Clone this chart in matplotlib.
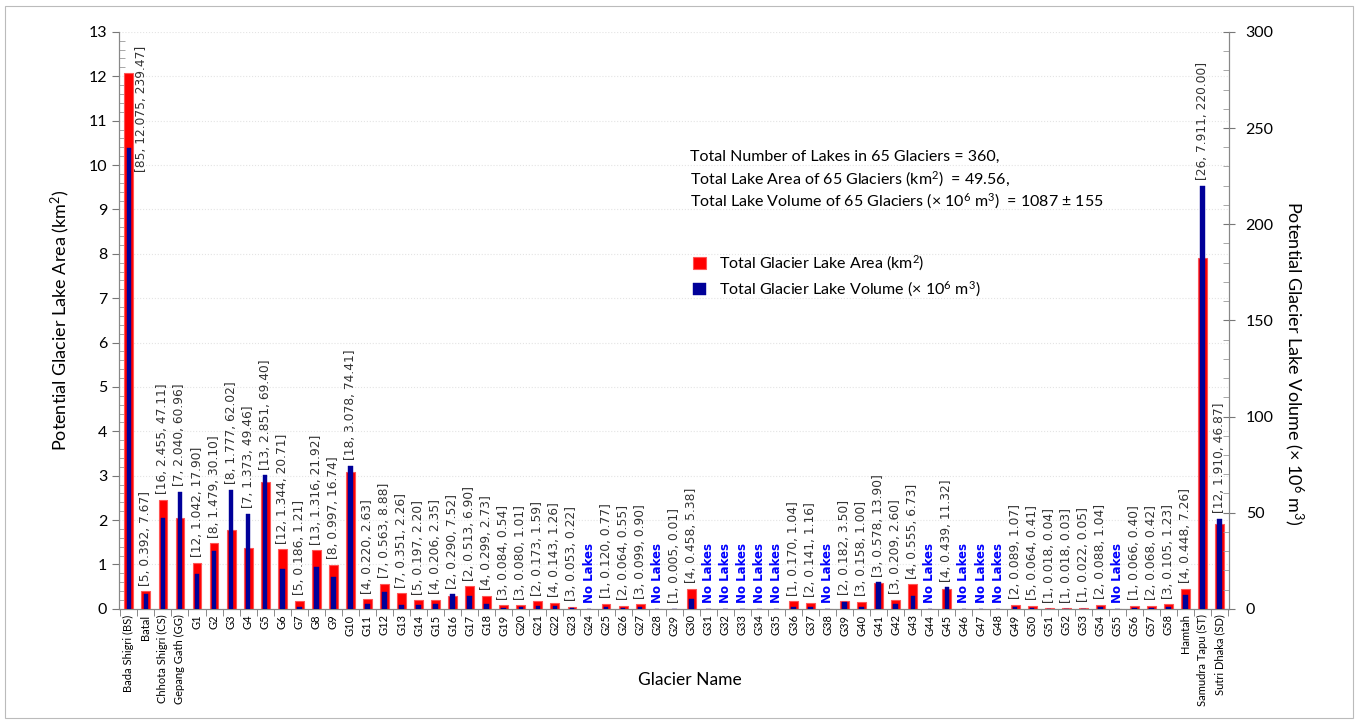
import numpy as np
import matplotlib.pyplot as plt
from matplotlib.ticker import MultipleLocator, FixedLocator

plt.rcParams['font.family'] = ['Lato', 'DejaVu Sans']
plt.rcParams['mathtext.fontset'] = 'custom'
plt.rcParams['mathtext.rm'] = 'Lato'
plt.rcParams['mathtext.it'] = 'Lato:italic'
plt.rcParams['mathtext.bf'] = 'Lato:bold'

glaciers = ['Bada Shigri (BS)', 'Batal', 'Chhota Shigri (CS)', 'Gepang Gath (GG)'] \
    + ['G%d' % i for i in range(1, 59)] \
    + ['Hamtah', 'Samudra Tapu (ST)', 'Sutri Dhaka (SD)']

# number of lakes per glacier (0 = no lakes)
n_lakes = [85, 5, 16, 7,
           12, 8, 8, 7, 13, 12, 5, 13, 8, 18,
           4, 7, 7, 5, 4, 2, 2, 4, 3, 3,
           2, 4, 3, 0, 1, 2, 3, 0, 1, 4,
           0, 0, 0, 0, 0, 1, 2, 0, 2, 3,
           3, 3, 4, 0, 4, 0, 0, 0, 2, 5,
           1, 1, 1, 2, 0, 1, 2, 3,
           4, 26, 12]

# total lake area (km2)
area = [12.075, 0.392, 2.455, 2.040,
        1.042, 1.479, 1.777, 1.373, 2.851, 1.344, 0.186, 1.316, 0.997, 3.078,
        0.220, 0.563, 0.351, 0.197, 0.206, 0.290, 0.513, 0.299, 0.084, 0.080,
        0.173, 0.143, 0.053, 0.0, 0.120, 0.064, 0.099, 0.0, 0.005, 0.458,
        0.0, 0.0, 0.0, 0.0, 0.0, 0.170, 0.141, 0.0, 0.182, 0.158,
        0.578, 0.209, 0.555, 0.0, 0.439, 0.0, 0.0, 0.0, 0.089, 0.064,
        0.018, 0.018, 0.022, 0.088, 0.0, 0.066, 0.068, 0.105,
        0.448, 7.911, 1.910]

# total lake volume (x 10^6 m3)
volume = [239.47, 7.67, 47.11, 60.96,
          17.90, 30.10, 62.02, 49.46, 69.40, 20.71, 1.21, 21.92, 16.74, 74.41,
          2.63, 8.88, 2.26, 2.20, 2.35, 7.52, 6.90, 2.73, 0.54, 1.01,
          1.59, 1.26, 0.22, 0.0, 0.77, 0.55, 0.90, 0.0, 0.01, 5.38,
          0.0, 0.0, 0.0, 0.0, 0.0, 1.04, 1.16, 0.0, 3.50, 1.00,
          13.90, 2.60, 6.73, 0.0, 11.32, 0.0, 0.0, 0.0, 1.07, 0.41,
          0.04, 0.03, 0.05, 1.04, 0.0, 0.40, 0.42, 1.23,
          7.26, 220.00, 46.87]

area_max = 13
vol_max = 300

fig = plt.figure(figsize=(13.58, 7.24), dpi=100)
ax = fig.add_axes([0.0876, 0.159, 0.8174, 0.797])
ax2 = ax.twinx()

x = np.arange(len(glaciers))

ax.bar(x, area, width=0.52, color='#FF0000', edgecolor='#FF5555', linewidth=0.8,
       label='Total Glacier Lake Area (km$^2$)', zorder=3)
ax2.bar(x, volume, width=0.27, color='#000099', edgecolor='#000099', linewidth=0.3,
        label='Total Glacier Lake Volume (× 10$^6$ m$^3$)', zorder=3)

ax.set_xlim(-0.58, len(glaciers) - 0.45)
ax.set_ylim(0, area_max)
ax2.set_ylim(0, vol_max)

# annotations
for i in range(len(glaciers)):
    if n_lakes[i] == 0:
        ax.annotate('No Lakes', (x[i], 0), xytext=(0, 4), textcoords='offset points',
                    rotation=90, ha='center', va='bottom', color='#0000FF',
                    fontsize=8.5, fontweight='bold', family='DejaVu Sans')
        continue
    txt = '[%d, %.3f, %.2f]' % (n_lakes[i], area[i], volume[i])
    top = max(area[i], volume[i] / vol_max * area_max)
    if top > 11:
        # no room above: put it beside the bar
        ax.annotate(txt, (x[i] + 0.75, 12.68), rotation=90, ha='center', va='top',
                    fontsize=8.8, color='#333333', family='DejaVu Sans')
    else:
        ax.annotate(txt, (x[i], top), xytext=(0, 4), textcoords='offset points',
                    rotation=90, ha='center', va='bottom', fontsize=8.8,
                    color='#333333', family='DejaVu Sans')

# left axis
ax.yaxis.set_major_locator(MultipleLocator(1))
ax.yaxis.set_minor_locator(MultipleLocator(0.2))
ax.tick_params(axis='y', which='major', direction='out', length=5, color='#777777',
               labelsize=11.5)
ax.tick_params(axis='y', which='minor', direction='in', length=4, color='#999999')
ax.grid(axis='y', color='#E4E4E4', linestyle=':', linewidth=0.8, zorder=0)

# x axis ticks between categories
ax.set_xticks(x)
ax.set_xticklabels(glaciers, rotation=90, fontsize=8)
ax.xaxis.set_minor_locator(FixedLocator(np.arange(-0.5, len(glaciers), 1)))
ax.tick_params(axis='x', which='major', length=0, pad=4)
ax.tick_params(axis='x', which='minor', length=5, color='#777777')

# right axis
ax2.yaxis.set_major_locator(MultipleLocator(50))
ax2.yaxis.set_minor_locator(MultipleLocator(10))
ax2.tick_params(axis='y', which='major', direction='inout', length=8, color='#777777',
                labelsize=11.5, pad=8)
ax2.tick_params(axis='y', which='minor', direction='in', length=4, color='#999999')

for a in (ax, ax2):
    a.spines['top'].set_visible(False)
    for s in ('left', 'right', 'bottom'):
        a.spines[s].set_color('#888888')

ax.set_ylabel('Potential Glacier Lake Area (km$^2$)', fontsize=13, labelpad=12)
ax2.set_ylabel('Potential Glacier Lake Volume (× 10$^6$ m$^3$)', fontsize=13,
               rotation=-90, va='center')
ax2.yaxis.set_label_coords(1.058, 0.425)
fig.text(0.508, 0.061, 'Glacier Name', fontsize=12.5, ha='center', va='center')

# summary text
fig.text(0.508, 0.783, 'Total Number of Lakes in 65 Glaciers = 360,', fontsize=11.5,
         va='center')
fig.text(0.508, 0.752, 'Total Lake Area of 65 Glaciers (km$^2$)  = 49.56,', fontsize=11.5,
         va='center')
fig.text(0.508, 0.722, 'Total Lake Volume of 65 Glaciers (× 10$^6$ m$^3$)  = 1087 ± 155',
         fontsize=11.5, va='center')

h1, l1 = ax.get_legend_handles_labels()
h2, l2 = ax2.get_legend_handles_labels()
leg = fig.legend(h1 + h2, l1 + l2, loc='upper left', bbox_to_anchor=(0.5, 0.67),
                 frameon=False, fontsize=11.5, handlelength=0.8, handleheight=0.8,
                 handletextpad=0.8, labelspacing=0.45)

fig.patches.append(plt.Rectangle((0.004, 0.008), 0.992, 0.984, transform=fig.transFigure,
                                 fill=False, edgecolor='#BBBBBB', linewidth=0.8))

fig.savefig('out.png', dpi=100)
